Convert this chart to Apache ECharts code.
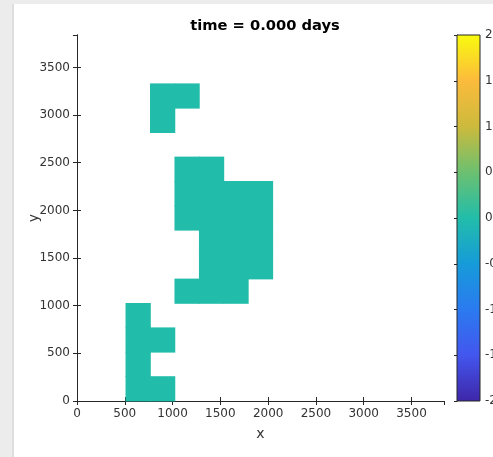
<!DOCTYPE html>
<html><head><meta charset="utf-8">
<script src="https://cdn.jsdelivr.net/npm/echarts@6/dist/echarts.min.js"></script>
<style>html,body{margin:0;padding:0;background:#fff}#c{width:493px;height:457px}</style>
</head><body><div id="c"></div>
<script>
// Cell lower-left corners (units) and values
const cellSize = 256;
const cellX = [512,512,512,512,768,768,
  1024,1280,1536,
  1280,1280,1280,1280,1280,
  1024,1024,1024,
  1536,1536,1536,1536,
  1792,1792,1792,1792,
  768,1024,768];
const cellY = [0,256,512,768,0,512,
  1024,1024,1024,
  1280,1536,1792,2048,2304,
  1792,2048,2304,
  1280,1536,1792,2048,
  1280,1536,1792,2048,
  3072,3072,2816];
const cellValue = [0,0,0,0,0,0, 0,0,0, 0,0,0,0,0, 0,0,0, 0,0,0,0, 0,0,0,0, 0,0,0];
const axisTicks = [0,500,1000,1500,2000,2500,3000,3500];
const colorbarTicks = ['-2','-1.5','-1','-0.5','0','0.5','1','1.5','2'];
const parula = ['#3e26a8','#4356ee','#2b7af0','#169bd9','#22bdaa','#6cc070','#cdba3c','#fcbb3c','#f9fb0e'];

const data = cellX.map((x,i)=>[x, cellY[i], cellValue[i]]);
const axCol = '#262626';
const txtCol = '#333333';
const font = 'DejaVu Sans';
const chart = echarts.init(document.getElementById('c'), null, {renderer:'canvas'});
const lbl = v => axisTicks.includes(v) ? String(v) : '';
const commonX = {type:'value', min:0, max:3840, interval:500, gridIndex:0,
  axisLine:{show:true, lineStyle:{color:axCol, width:1}},
  axisTick:{show:true, inside:true, length:4, lineStyle:{color:axCol}},
  splitLine:{show:false}};
chart.setOption({
  animation:false,
  backgroundColor:'#fff',
  title:{text:'time = 0.000 days', left:260, top:14, textAlign:'center',
    textStyle:{fontFamily:font, fontSize:14.7, fontWeight:'bold', color:'#000'}},
  graphic:[
    {type:'rect', shape:{x:0,y:0,width:13,height:457}, style:{fill:'#ececec'}, z:-10},
    {type:'rect', shape:{x:0,y:0,width:493,height:4}, style:{fill:'#ececec'}, z:-10},
    {type:'rect', shape:{x:12,y:4,width:2,height:453}, style:{fill:'#dedede'}, z:-10}
  ],
  grid:[
    {left:77, top:35, width:367, height:366, outerBoundsMode:'none', containLabel:false},
    {left:457, top:35, width:23, height:366, outerBoundsMode:'none', containLabel:false}
  ],
  xAxis:[
    Object.assign({}, commonX, {position:'bottom', name:'x', nameLocation:'middle', nameGap:26,
      nameMoveOverlap:false,
      nameTextStyle:{fontFamily:font, fontSize:14, color:txtCol},
      axisLabel:{formatter:lbl, showMaxLabel:false, fontFamily:font, fontSize:12, color:txtCol, margin:7}}),
    Object.assign({}, commonX, {position:'top', axisLabel:{show:false}}),
    {type:'value', gridIndex:1, min:0, max:1, show:false}
  ],
  yAxis:[
    {type:'value', gridIndex:0, min:0, max:3840, interval:500, position:'left',
      name:'y', nameLocation:'middle', nameGap:36, nameRotate:90, nameMoveOverlap:false,
      nameTextStyle:{fontFamily:font, fontSize:14, color:txtCol},
      axisLine:{show:true, lineStyle:{color:axCol, width:1}},
      axisTick:{show:true, inside:true, length:4, lineStyle:{color:axCol}},
      axisLabel:{formatter:lbl, showMaxLabel:false, fontFamily:font, fontSize:12, color:txtCol, margin:7},
      splitLine:{show:false}},
    {type:'value', gridIndex:0, min:0, max:3840, interval:500, position:'right',
      axisLine:{show:true, lineStyle:{color:axCol, width:1}},
      axisTick:{show:true, inside:true, length:4, lineStyle:{color:axCol}},
      axisLabel:{show:false}, splitLine:{show:false}},
    {type:'value', gridIndex:1, min:-2, max:2, interval:0.5, position:'right',
      axisLine:{show:true, lineStyle:{color:axCol, width:1}},
      axisTick:{show:true, inside:true, length:3, lineStyle:{color:axCol}},
      axisLabel:{formatter:v=>colorbarTicks[Math.round((v+2)*2)] ?? '', fontFamily:font, fontSize:12, color:txtCol, margin:5},
      splitLine:{show:false}}
  ],
  visualMap:{type:'continuous', show:false, min:-2, max:2, seriesIndex:0, dimension:2,
    inRange:{color:parula}},
  series:[
    {type:'custom', xAxisIndex:0, yAxisIndex:0, data:data, encode:{x:0,y:1},
      renderItem:(params, api)=>{
        const x = api.value(0), y = api.value(1);
        const p0 = api.coord([x, y + cellSize]);
        const p1 = api.coord([x + cellSize, y]);
        return {type:'rect', shape:{x:p0[0]-0.4, y:p0[1]-0.4, width:p1[0]-p0[0]+0.8, height:p1[1]-p0[1]+0.8},
          style:{fill:api.visual('color')}};
      }},
    {type:'custom', xAxisIndex:2, yAxisIndex:2, data:[[0,-2,1,2]], silent:true, encode:{x:[0,2],y:[1,3]},
      renderItem:(params, api)=>{
        const cs = params.coordSys;
        const p0 = api.coord([0, api.value(3)]);
        const p1 = api.coord([1, api.value(1)]);
        const stops = parula.map((c,i)=>({offset:1 - i/(parula.length-1), color:c})).reverse();
        return {type:'rect', shape:{x:cs.x, y:p0[1], width:cs.width, height:p1[1]-p0[1]},
          style:{fill:new echarts.graphic.LinearGradient(0,0,0,1, stops), stroke:axCol, lineWidth:1}};
      }}
  ]
});
</script></body></html>
